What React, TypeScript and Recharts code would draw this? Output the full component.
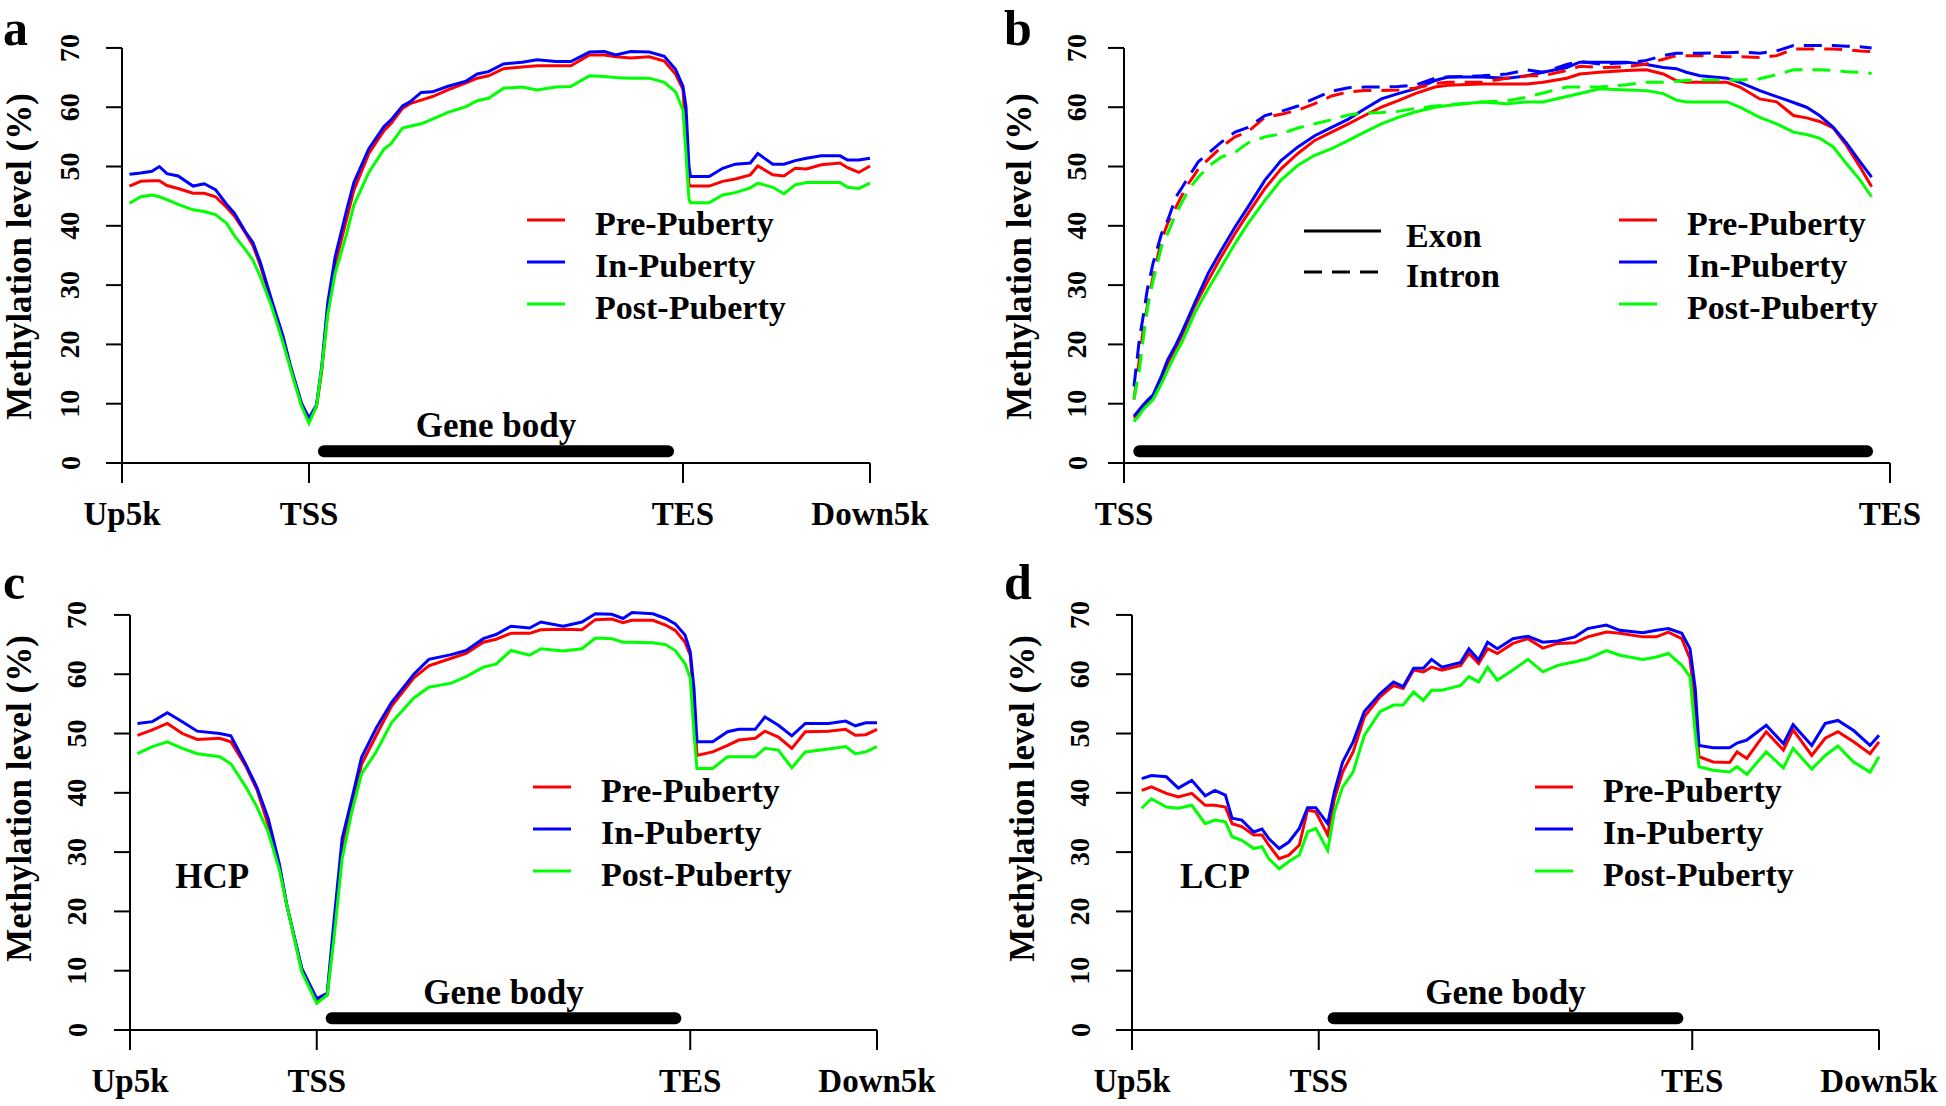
import React from "react";
import {
  LineChart,
  Line,
  XAxis,
  YAxis,
  ReferenceLine,
  ReferenceDot,
  Legend,
} from "recharts";

const FONT = "'Liberation Serif', 'Times New Roman', serif";
const RED = "#ff0000";
const BLUE = "#0000ff";
const GREEN = "#00ff00";

const stageNames = ["Pre-Puberty", "In-Puberty", "Post-Puberty"];
const typeNames = ["Exon", "Intron"];
const yTicks = [0, 10, 20, 30, 40, 50, 60, 70];
const flankTicks = [0, 25, 75, 100];
const flankLabels = ["Up5k", "TSS", "TES", "Down5k"];
const bodyTicks = [0, 100];
const bodyLabels = ["TSS", "TES"];

// a: gene body with 5 kb flanks
const aPos = [1, 2.5, 4, 5, 6, 7.5, 9.5, 11, 12.5, 14, 15, 16.5, 17.5, 18.5, 20, 21.5, 22.5, 24, 25, 26,
  26.7, 27.5, 28.5, 30, 31, 33, 35, 36, 37.5, 38.5, 40, 41.5, 43.5, 46, 47.5, 49, 51, 53.5, 55.5, 58,
  60, 62.5, 64.5, 66, 68, 70.5, 72.5, 74, 75, 75.4, 75.8, 76, 78.5, 80.3, 82, 84, 85, 87, 88.5, 90,
  91.5, 93.5, 96, 97, 98.5, 100];
const aPre = [46.7, 47.5, 47.6, 47.6, 46.8, 46.3, 45.5, 45.5, 44.9, 43.1, 41.7, 38.8, 36.7, 33.3, 27.0, 21.2, 16.2, 9.8, 7.2, 9.5,
  15.5, 25.5, 33.5, 41.0, 46.0, 52.2, 56.0, 57.3, 59.8, 60.6, 61.2, 61.8, 62.9, 64.1, 64.9, 65.3, 66.5, 66.8, 67.0, 67.0,
  67.0, 68.8, 68.8, 68.5, 68.3, 68.5, 67.8, 65.6, 63.0, 55.0, 47.0, 46.7, 46.7, 47.5, 47.9, 48.6, 50.1, 48.6, 48.4, 49.7,
  49.6, 50.3, 50.6, 49.8, 49.0, 50.1];
const aIn = [48.7, 48.9, 49.2, 50.0, 48.8, 48.4, 46.7, 47.1, 46.1, 43.6, 42.2, 39.0, 37.2, 33.8, 27.5, 21.5, 16.5, 10.1, 7.6, 9.8,
  16.3, 27.0, 34.8, 42.5, 47.3, 53.0, 56.7, 57.9, 60.2, 60.9, 62.5, 62.6, 63.5, 64.4, 65.6, 66.0, 67.3, 67.6, 68.0, 67.7,
  67.7, 69.3, 69.4, 68.8, 69.4, 69.3, 68.6, 66.4, 63.5, 60.0, 50.0, 48.3, 48.3, 49.7, 50.4, 50.6, 52.2, 50.4, 50.4, 51.0,
  51.4, 51.8, 51.8, 51.1, 51.1, 51.4];
const aPost = [43.8, 44.9, 45.2, 44.9, 44.4, 43.6, 42.7, 42.4, 41.9, 40.4, 38.4, 36.0, 34.2, 31.4, 26.4, 20.4, 16.0, 9.6, 6.7, 9.6,
  16.0, 25.0, 32.0, 38.5, 43.5, 49.0, 52.9, 53.9, 56.5, 56.8, 57.2, 58.0, 59.1, 60.1, 61.1, 61.5, 63.2, 63.4, 62.9, 63.4,
  63.5, 65.3, 65.2, 65.0, 64.9, 64.9, 64.2, 62.6, 59.5, 52.0, 44.5, 43.9, 43.9, 45.2, 45.6, 46.4, 47.2, 46.5, 45.4, 46.9,
  47.3, 47.3, 47.3, 46.5, 46.3, 47.2];

// b: exon / intron along the gene body
const bPos = [1.3, 2, 2.5, 3.1, 3.8, 4.9, 5.7, 6.8, 7.5, 8.4, 9.2, 9.7, 11, 12.7, 14.5, 16.2, 18.4, 20.5, 22.7, 24.9,
  27.1, 29.3, 31.4, 33.6, 35.8, 38, 40.6, 42.3, 46.7, 50, 52.6, 54.7, 57.8, 59.5, 62.1, 65.6, 68.2, 70.4, 72.1, 73.4,
  75.2, 78.7, 80.4, 83, 85.2, 87.4, 89.1, 90.8, 92.6, 94.3, 96.1, 97.6];
const bExonPre = [7.6, 8.7, 9.5, 10.3, 11.2, 14.3, 16.8, 19.5, 21.3, 24.0, 26.4, 27.6, 30.8, 34.8, 38.7, 42.1, 46.3, 49.6, 52.2, 54.4,
  55.8, 57.2, 58.6, 60.0, 61.1, 62.3, 63.4, 63.7, 63.9, 63.9, 63.9, 64.2, 64.9, 65.6, 65.9, 66.2, 66.3, 65.6, 64.5, 64.2,
  64.2, 64.2, 63.4, 61.4, 60.9, 58.6, 58.2, 57.6, 56.5, 53.6, 49.9, 46.6];
const bExonIn = [7.9, 9.0, 9.8, 10.6, 11.5, 14.7, 17.4, 20.0, 21.9, 24.5, 26.9, 28.3, 32.0, 35.9, 39.8, 43.2, 47.7, 51.0, 53.3, 55.2,
  56.6, 58.0, 59.7, 61.4, 62.3, 63.1, 64.5, 65.1, 65.1, 64.9, 65.3, 65.9, 66.7, 67.6, 67.6, 67.6, 67.2, 66.7, 66.5, 65.9,
  65.3, 64.9, 64.2, 62.8, 61.8, 60.8, 60.0, 58.6, 56.6, 54.0, 50.8, 48.2];
const bExonPost = [7.0, 8.1, 9.0, 9.8, 10.7, 13.4, 15.7, 18.6, 20.2, 22.8, 25.2, 26.4, 29.4, 33.1, 37.0, 40.4, 44.3, 47.7, 50.2, 51.9,
  53.0, 54.4, 55.8, 57.2, 58.3, 59.2, 60.0, 60.3, 60.9, 60.6, 60.9, 60.9, 61.8, 62.3, 63.1, 62.9, 62.8, 62.3, 61.2, 60.9,
  60.9, 60.9, 60.0, 58.3, 57.2, 55.8, 55.4, 54.8, 53.3, 50.5, 47.7, 44.9];
const bIntronPre = [10.7, 17.4, 22.4, 26.9, 31.5, 37.6, 40.4, 43.2, 45.0, 47.1, 48.6, 49.6, 51.2, 53.3, 55.0, 55.9, 58.3, 58.8, 59.5, 60.6,
  61.9, 62.6, 62.8, 62.8, 62.9, 63.2, 64.0, 64.2, 64.2, 64.9, 65.3, 65.3, 66.2, 66.9, 66.7, 66.8, 67.3, 68.1, 68.7, 68.7,
  68.7, 68.5, 68.5, 68.4, 68.7, 69.8, 69.8, 69.8, 69.8, 69.7, 69.5, 69.4];
const bIntronIn = [12.9, 20.8, 24.7, 29.7, 33.7, 38.7, 40.9, 44.9, 46.3, 48.2, 49.8, 50.8, 52.2, 54.1, 55.8, 56.6, 58.6, 59.3, 60.2, 61.5,
  62.7, 63.3, 63.4, 63.4, 63.5, 63.7, 64.9, 65.1, 65.3, 65.6, 66.3, 65.9, 67.2, 67.7, 67.3, 67.5, 67.9, 68.7, 69.1, 69.1,
  69.1, 69.2, 69.3, 69.1, 69.5, 70.4, 70.4, 70.4, 70.4, 70.3, 70.2, 70.0];
const bIntronPost = [10.7, 15.7, 20.8, 26.4, 30.8, 36.5, 38.7, 42.1, 43.8, 46.0, 47.4, 48.2, 50.0, 51.6, 52.4, 54.0, 55.0, 55.5, 56.5, 57.2,
  57.9, 58.7, 59.0, 59.1, 59.3, 59.8, 60.2, 60.4, 60.9, 61.1, 61.7, 62.4, 63.4, 63.4, 63.4, 63.8, 64.2, 64.2, 64.4, 64.5,
  64.6, 64.6, 64.6, 64.8, 65.5, 66.3, 66.3, 66.3, 66.2, 66.0, 65.9, 65.7];

// c: HCP genes
const cPos = [1, 3, 5, 7, 9, 12, 13.5, 15.5, 17, 18.5, 20, 21, 23, 25, 26.4, 27.3, 28.4, 29.7, 31, 33,
  35, 38, 40, 43, 45, 47.3, 49, 51, 53.5, 55, 58, 60.5, 62.3, 64.5, 66, 67.2, 70, 71.7, 73, 74.3,
  75, 75.5, 75.9, 78, 80, 81.5, 83.7, 85, 86.8, 88.6, 90.4, 93.5, 95.8, 97.1, 98.5, 100];
const cPre = [49.7, 50.6, 51.7, 50.0, 49.0, 49.2, 48.6, 44.5, 40.5, 34.6, 27.5, 21.0, 10.1, 4.8, 5.9, 16.6, 30.6, 37.4, 44.8, 49.8,
  54.6, 59.4, 61.4, 62.7, 63.5, 65.4, 65.9, 66.9, 66.9, 67.5, 67.6, 67.5, 69.2, 69.3, 68.7, 69.1, 69.1, 68.3, 67.4, 65.4,
  63.2, 55.0, 46.3, 46.9, 48.0, 48.9, 49.2, 50.4, 49.4, 47.5, 50.3, 50.4, 50.7, 49.7, 49.8, 50.7];
const cIn = [51.7, 52.0, 53.5, 52.0, 50.4, 50.0, 49.6, 44.8, 40.9, 35.7, 28.0, 21.0, 10.4, 5.3, 6.2, 18.3, 32.3, 39.0, 46.0, 51.0,
  55.2, 60.0, 62.5, 63.3, 64.0, 66.0, 66.7, 68.1, 67.8, 68.8, 68.1, 68.8, 70.2, 70.1, 69.4, 70.4, 70.2, 69.4, 68.5, 66.6,
  63.8, 57.6, 48.6, 48.6, 50.3, 50.7, 50.7, 52.8, 51.4, 49.6, 51.7, 51.7, 52.1, 51.3, 51.8, 51.8];
const cPost = [46.6, 47.8, 48.6, 47.5, 46.6, 46.1, 44.9, 41.0, 37.6, 33.4, 27.0, 21.0, 9.8, 4.5, 5.9, 15.4, 28.9, 36.8, 43.2, 47.0,
  51.8, 56.0, 57.8, 58.5, 59.6, 61.2, 61.7, 64.0, 63.2, 64.3, 63.9, 64.3, 66.1, 66.0, 65.4, 65.4, 65.3, 65.0, 64.0, 61.8,
  59.3, 50.0, 44.1, 44.1, 46.1, 46.1, 46.1, 47.5, 47.2, 44.2, 46.9, 47.4, 47.8, 46.6, 46.9, 47.8];

// d: LCP genes
const dPos = [1.3, 2.6, 4.6, 6.2, 8, 9.8, 11.1, 12.5, 13.4, 14.7, 16.3, 17.4, 18.3, 19.7, 21, 22.4, 23.5, 24.6, 26.2, 27.1,
  28.2, 29.6, 31.1, 33.2, 35, 36.3, 37.7, 39, 40.1, 41.5, 44, 45.1, 46.4, 47.6, 48.9, 51, 53, 55, 57, 59.3,
  61, 63.5, 65.3, 68.4, 70.2, 71.8, 73.6, 74.7, 75.4, 75.9, 77.8, 80, 81, 82.3, 84.9, 87.2, 88.5, 91, 92.8, 94.5,
  96.6, 98.8, 100];
const dPre = [40.4, 41.0, 39.9, 39.3, 39.9, 37.9, 37.9, 37.6, 34.8, 34.3, 32.9, 32.9, 31.2, 28.9, 29.5, 31.2, 37.1, 36.8, 32.9, 39.0,
  43.5, 46.9, 52.8, 56.2, 58.1, 57.6, 60.7, 60.4, 61.2, 60.7, 61.5, 63.5, 61.8, 64.3, 63.5, 65.2, 66.0, 64.4, 65.2, 65.3,
  66.3, 67.1, 66.9, 66.3, 66.3, 67.1, 66.0, 62.6, 54.8, 46.1, 45.2, 45.1, 46.9, 45.8, 50.3, 47.2, 50.6, 46.3, 49.2, 50.3,
  48.6, 46.6, 48.6];
const dIn = [42.4, 42.9, 42.7, 40.8, 42.1, 39.5, 40.4, 39.6, 35.7, 35.4, 33.4, 33.9, 32.3, 30.6, 31.7, 34.0, 37.5, 37.5, 34.8, 40.2,
  45.2, 48.6, 53.7, 56.7, 58.7, 57.9, 61.0, 61.0, 62.5, 61.2, 62.0, 64.3, 62.4, 65.4, 64.3, 66.0, 66.4, 65.4, 65.6, 66.3,
  67.7, 68.3, 67.4, 67.0, 67.4, 67.7, 66.9, 64.3, 57.6, 48.0, 47.6, 47.6, 48.4, 48.9, 51.4, 48.3, 51.5, 48.0, 51.7, 52.2,
  50.5, 48.0, 49.7];
const dPost = [37.4, 39.0, 37.6, 37.4, 37.9, 34.8, 35.4, 35.1, 32.6, 32.0, 30.6, 30.9, 28.9, 27.2, 28.4, 29.5, 33.4, 34.0, 30.3, 36.8,
  41.0, 43.5, 49.7, 53.7, 54.8, 54.8, 57.0, 55.6, 57.3, 57.3, 58.1, 59.6, 58.7, 61.2, 59.0, 60.7, 62.5, 60.4, 61.5, 62.1,
  62.6, 64.0, 63.2, 62.5, 62.9, 63.5, 61.5, 59.6, 50.0, 44.4, 43.8, 43.5, 44.4, 43.1, 46.9, 44.2, 47.5, 44.0, 46.3, 47.9,
  45.2, 43.5, 46.1];

const zip = (pos: number[], cols: Record<string, number[]>) =>
  pos.map((x, i) => {
    const row: Record<string, number> = { x };
    Object.keys(cols).forEach((k) => (row[k] = cols[k][i]));
    return row;
  });

const stageLines = [
  { key: "pre", name: stageNames[0], color: RED },
  { key: "in", name: stageNames[1], color: BLUE },
  { key: "post", name: stageNames[2], color: GREEN },
];
const exonIntronLines = [
  { key: "exPre", name: stageNames[0], color: RED },
  { key: "exIn", name: stageNames[1], color: BLUE },
  { key: "exPost", name: stageNames[2], color: GREEN },
  { key: "inPre", name: stageNames[0] + " intron", color: RED, dashed: true },
  { key: "inIn", name: stageNames[1] + " intron", color: BLUE, dashed: true },
  { key: "inPost", name: stageNames[2] + " intron", color: GREEN, dashed: true },
];

const DASH = "18 10";

const XTick = (p: any) => {
  const i = p.ticks.indexOf(p.payload.value);
  return (
    <text x={p.x} y={p.y + 42} textAnchor="middle" fontSize={33} fontWeight="bold" fontFamily={FONT} fill="#000">
      {p.labels[i]}
    </text>
  );
};

const YTick = (p: any) => {
  const cx = p.x - p.dist;
  return (
    <text x={cx} y={p.y} transform={`rotate(-90 ${cx} ${p.y})`} textAnchor="middle" dominantBaseline="central"
      fontSize={28} fontWeight="bold" fontFamily={FONT} fill="#000">
      {p.payload.value}
    </text>
  );
};

const YTitle = (p: any) => {
  const vb = p.viewBox || { x: 0, y: 0, width: 0, height: 0 };
  const cx = vb.x + vb.width - p.dist;
  const cy = vb.y + vb.height / 2 + p.dy;
  return (
    <text x={cx} y={cy} transform={`rotate(-90 ${cx} ${cy})`} textAnchor="middle" dominantBaseline="central"
      fontSize={35} fontWeight="bold" fontFamily={FONT} fill="#000">
      Methylation level (%)
    </text>
  );
};

const LegendRow = ({ x, y, len, gap, color, dash, label, shift }: any) => (
  <>
    <svg style={{ position: "absolute", left: x, top: y - 3 }} width={len} height={6}>
      <line x1={0} y1={3} x2={len} y2={3} stroke={color} strokeWidth={3} strokeDasharray={dash} />
    </svg>
    <span style={{ position: "absolute", left: x + gap, top: y + shift - 31.5, fontSize: 34, lineHeight: "40px",
      fontWeight: "bold", fontFamily: FONT, whiteSpace: "nowrap", color: "#000" }}>
      {label}
    </span>
  </>
);

const LegendBox = ({ payload, at, typeAt }: any) => {
  const items = (payload || [])
    .filter((e: any) => e.type !== "none" && stageNames.includes(e.value))
    .sort((p: any, q: any) => stageNames.indexOf(p.value) - stageNames.indexOf(q.value));
  return (
    <div style={{ position: "relative", width: "100%", height: "100%" }}>
      {items.map((e: any, i: number) => (
        <LegendRow key={e.value} x={at.x} y={at.y + i * 42} len={38} gap={68} color={e.color} label={e.value} shift={15} />
      ))}
      {typeAt &&
        typeNames.map((t, i) => (
          <LegendRow key={t} x={typeAt.x} y={typeAt.y + i * 40.5} len={77} gap={102} color="#000"
            dash={i === 1 ? DASH : undefined} label={t} shift={16} />
        ))}
    </div>
  );
};

const Panel = ({ cfg }: any) => {
  const axisStroke = { stroke: "#000", strokeWidth: 2 };
  return (
    <div style={{ position: "absolute", left: cfg.left, top: cfg.top }}>
      <LineChart width={cfg.width} height={cfg.height} data={cfg.rows}
        margin={{ top: cfg.mt, right: cfg.mr, bottom: 0, left: 0 }}>
        <XAxis type="number" dataKey="x" domain={[0, 100]} ticks={cfg.xTicks} interval={0} height={cfg.xh}
          tickSize={20} tickMargin={0} axisLine={axisStroke} tickLine={axisStroke}
          tick={(p: any) => <XTick {...p} ticks={cfg.xTicks} labels={cfg.xLabels} />} />
        <YAxis type="number" domain={[0, 71]} ticks={yTicks} interval={0} width={cfg.yw} tickSize={16}
          tickMargin={0} axisLine={false} tickLine={axisStroke}
          tick={(p: any) => <YTick {...p} dist={cfg.tickDist - 16} />}
          label={<YTitle dist={cfg.titleDist} dy={cfg.titleDy} />} />
        <ReferenceLine segment={[{ x: 0, y: 0 }, { x: 0, y: 70 }]} stroke="#000" strokeWidth={2} />
        <ReferenceLine segment={[{ x: cfg.bar[0], y: 2 }, { x: cfg.bar[1], y: 2 }]} stroke="#000" strokeWidth={12}
          strokeLinecap="round"
          label={cfg.barLabel ? { value: cfg.barLabel, position: "top", offset: 14, fontSize: 35,
            fontWeight: "bold", fontFamily: FONT, fill: "#000" } : undefined} />
        {cfg.note && (
          <ReferenceDot x={cfg.note.x} y={cfg.note.y} r={0} fill="none" stroke="none"
            label={{ value: cfg.note.text, position: "center", fontSize: 35, fontWeight: "bold",
              fontFamily: FONT, fill: "#000" }} />
        )}
        {cfg.lines.map((s: any) => (
          <Line key={s.key} type="linear" dataKey={s.key} name={s.name} stroke={s.color} strokeWidth={3}
            strokeDasharray={s.dashed ? DASH : undefined} dot={false} activeDot={false}
            legendType={s.dashed ? "none" : "line"} isAnimationActive={false} />
        ))}
        <Legend layout="horizontal" verticalAlign="middle" align="center"
          wrapperStyle={{ left: 0, top: 0, width: cfg.width, height: cfg.height, pointerEvents: "none" }}
          content={(p: any) => <LegendBox payload={p.payload} at={cfg.legendAt} typeAt={cfg.typeAt} />} />
      </LineChart>
    </div>
  );
};

const panels = [
  {
    letter: "a", lx: 3, ly: 45,
    left: 0, top: 0, width: 973, height: 553, yw: 122, mt: 42, mr: 103, xh: 90,
    rows: zip(aPos, { pre: aPre, in: aIn, post: aPost }), lines: stageLines,
    xTicks: flankTicks, xLabels: flankLabels, tickDist: 52, titleDist: 103, titleDy: 4,
    bar: [27, 73], barLabel: "Gene body", legendAt: { x: 527, y: 220 },
  },
  {
    letter: "b", lx: 1004, ly: 45,
    left: 973, top: 0, width: 973, height: 553, yw: 151, mt: 42, mr: 56, xh: 90,
    rows: zip(bPos, { exPre: bExonPre, exIn: bExonIn, exPost: bExonPost, inPre: bIntronPre, inIn: bIntronIn, inPost: bIntronPost }),
    lines: exonIntronLines,
    xTicks: bodyTicks, xLabels: bodyLabels, tickDist: 47, titleDist: 105, titleDy: 4,
    bar: [2, 97], legendAt: { x: 646, y: 220 }, typeAt: { x: 331, y: 231 },
  },
  {
    letter: "c", lx: 3, ly: 599,
    left: 0, top: 553, width: 973, height: 553, yw: 130, mt: 56, mr: 96, xh: 76,
    rows: zip(cPos, { pre: cPre, in: cIn, post: cPost }), lines: stageLines,
    xTicks: flankTicks, xLabels: flankLabels, tickDist: 53, titleDist: 111, titleDy: -21,
    bar: [27, 73], barLabel: "Gene body", note: { text: "HCP", x: 11, y: 26 }, legendAt: { x: 533, y: 234 },
  },
  {
    letter: "d", lx: 1004, ly: 599,
    left: 973, top: 553, width: 973, height: 553, yw: 159, mt: 56, mr: 67, xh: 76,
    rows: zip(dPos, { pre: dPre, in: dIn, post: dPost }), lines: stageLines,
    xTicks: flankTicks, xLabels: flankLabels, tickDist: 52, titleDist: 110, titleDy: -21,
    bar: [27, 73], barLabel: "Gene body", note: { text: "LCP", x: 11.1, y: 26 }, legendAt: { x: 562, y: 234 },
  },
];

export default function App() {
  return (
    <div style={{ position: "absolute", left: 0, top: 0, width: 1946, height: 1106, background: "#fff",
      fontFamily: FONT, fontWeight: "bold", overflow: "hidden" }}>
      <svg width={1946} height={1106} style={{ position: "absolute", left: 0, top: 0, pointerEvents: "none" }}>
        {panels.map((p) => (
          <text key={p.letter} x={p.lx} y={p.ly} fontSize={50} fontWeight="bold" fontFamily={FONT} fill="#000">
            {p.letter}
          </text>
        ))}
      </svg>
      {panels.map((p) => (
        <Panel key={p.letter} cfg={p} />
      ))}
    </div>
  );
}
